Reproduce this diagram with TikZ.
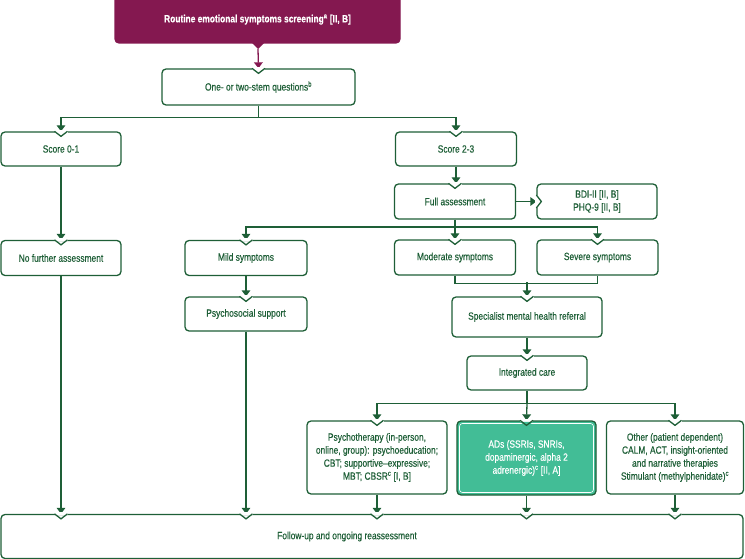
\documentclass[tikz,border=0pt]{standalone}
\usepackage{fontspec}
\setmainfont{Liberation Sans}[FakeStretch=0.8, FakeBold=0.35]
\usetikzlibrary{arrows.meta, positioning}
\definecolor{darkgreen}{RGB}{30,95,55}
\definecolor{plum}{RGB}{132,24,80}
\definecolor{mint}{RGB}{66,189,150}
\tikzset{
    box/.style = {draw=darkgreen, line width=1.3pt, rectangle, rounded corners=4pt, fill=white,
      text=darkgreen, align=center, inner sep=0pt, font=\fontsize{10.5}{13}\selectfont},
    topbox/.style = {box, draw=plum, fill=plum, text=white},
    textnode/.style = {draw=none, fill=none, text=darkgreen, inner sep=0pt, font=\fontsize{10.5}{13}\selectfont},
    line/.style = {darkgreen, line width=1.3pt},
    connect/.style = {line, -{Triangle[width=8.5pt,length=6pt]}}
}
\newcommand{\notch}[1]{\begin{scope}[shift={(#1)}]
    \fill[white] (-6.5,-1.5) rectangle (6.5,1.5);
    \draw[line, line join=miter] (-6.5,0) -- (0,5) -- (6.5,0);
  \end{scope}}
\newcommand{\notchleft}[1]{\begin{scope}[shift={(#1)}]
    \fill[white] (-1.5,-6.5) rectangle (1.5,6.5);
    \draw[line, line join=miter] (0,-6.5) -- (5,0) -- (0,6.5);
  \end{scope}}

\begin{document}
\begin{tikzpicture}[x=1pt, y=-1pt]
    \useasboundingbox (0,0) rectangle (745,559);

    \node [name=screen, topbox, minimum width=285pt, minimum height=47pt] at (257.5,19.5)
        {\textbf{Routine emotional symptoms screening\textsuperscript{a} [II, B]}};
    \fill[plum] (251.5,42.5) -- (264.5,42.5) -- (258,49) -- cycle;

    \node [name=stem, box, minimum width=193pt, minimum height=36pt] at (258.5,87)
        {One- or two-stem questions\textsuperscript{b}};
    \node [name=low, box, minimum width=120pt, minimum height=34pt] at (61,149) {Score 0-1};
    \node [name=high, box, minimum width=121pt, minimum height=34pt] at (456,149) {Score 2-3};
    \node [name=full, box, minimum width=121pt, minimum height=35pt] at (455,201.5) {Full assessment};
    \node [name=scales, box, minimum width=120pt, minimum height=35pt] at (597,201.5)
        {BDI-II [II, B]\\PHQ-9 [II, B]};

    \node [name=nofurther, box, minimum width=120pt, minimum height=35pt] at (61,258) {No further assessment};
    \node [name=mild, box, minimum width=122pt, minimum height=35pt] at (246,258) {Mild symptoms};
    \node [name=moderate, box, minimum width=121pt, minimum height=35pt] at (455,257.5) {Moderate symptoms};
    \node [name=severe, box, minimum width=121pt, minimum height=35pt] at (597.5,257.5) {Severe symptoms};

    \node [name=psysocial, box, minimum width=122pt, minimum height=34pt] at (246,314) {Psychosocial support};
    \node [name=specialist, box, minimum width=150pt, minimum height=40pt] at (527,317)
        {Specialist mental health referral};
    \node [name=integrated, box, minimum width=120pt, minimum height=34pt] at (527,373) {Integrated care};

    \node [name=psychotherapy, box, minimum width=140pt, minimum height=73pt] at (377,457.5)
        {Psychotherapy (in-person,\\online, group): psychoeducation;\\CBT; supportive--expressive;\\MBT; CBSR\textsuperscript{c} [I, B]};
    \node [name=ads, box, fill=mint, text=white, minimum width=139pt, minimum height=74pt] at (526.5,458)
        {ADs (SSRIs, SNRIs,\\dopaminergic, alpha 2\\adrenergic)\textsuperscript{c} [II, A]};
    \draw [white, line width=0.6pt, rounded corners=3pt] (459.5,423.5) rectangle (593.5,492.5);
    \node [name=other, box, minimum width=137pt, minimum height=73pt] at (675,457.5)
        {Other (patient dependent)\\CALM, ACT, insight-oriented\\and narrative therapies\\Stimulant (methylphenidate)\textsuperscript{c}};

    \node [name=follow, box, minimum width=742pt, minimum height=44pt] at (372,536.5) {};
    \node [name=followtext, textnode] at (347,536.5) {Follow-up and ongoing reassessment};

    % connectors
    \draw [plum, line width=1.3pt, -{Triangle[width=8.5pt,length=6pt]}] (258,49) -- (stem.north);
    \draw [line] (stem.south) -- ++(0,12) coordinate (split1);
    \draw [connect] (split1) -| (low.north);
    \draw [connect] (split1) -| (high.north);
    \draw [connect] (high.south) -- (full.north -| high.south);
    \draw [connect] (full.east) -- (scales.west);
    \draw [connect] (low.south) -- (nofurther.north);

    \draw [line] (full.south) -- ++(0,7.5) coordinate (split2);
    \draw [connect] (split2) -| (mild.north);
    \draw [connect] (split2) -| (severe.north);
    \draw [connect] (split2) -- (moderate.north);
    \draw [connect] (mild.south) -- (psysocial.north);

    \draw [line] (moderate.south) -- ++(0,8) -| (severe.south);
    \path (specialist.north) ++(0,-14) coordinate (join);
    \draw [connect] (join) -- (specialist.north);
    \draw [connect] (specialist.south) -- (integrated.north);

    \draw [line] (integrated.south) -- ++(0,13) coordinate (split3);
    \draw [connect] (split3) -| (psychotherapy.north);
    \draw [connect] (split3) -| (other.north);
    \draw [connect] (split3) -- (ads.north);

    \draw [connect] (nofurther.south) -- (nofurther.south |- follow.north);
    \draw [connect] (psysocial.south) -- (psysocial.south |- follow.north);
    \draw [connect] (psychotherapy.south) -- (psychotherapy.south |- follow.north);
    \draw [connect] (ads.south) -- (ads.south |- follow.north);
    \draw [connect] (other.south) -- (other.south |- follow.north);

    % notches
    \notch{stem.north} \notch{low.north} \notch{high.north} \notch{full.north}
    \notchleft{scales.west}
    \notch{nofurther.north} \notch{mild.north} \notch{moderate.north} \notch{severe.north}
    \notch{psysocial.north} \notch{specialist.north} \notch{integrated.north}
    \notch{psychotherapy.north} \notch{other.north}
    \begin{scope}[shift={(ads.north)}]
      \fill[white] (-6.5,-1.5) rectangle (6.5,1.5);
      \fill[mint] (-6.5,1.5) -- (0,6.5) -- (6.5,1.5) -- cycle;
      \draw[line, line join=miter] (-6.5,0) -- (0,5) -- (6.5,0);
    \end{scope}
    \notch{nofurther.south |- follow.north} \notch{psysocial.south |- follow.north}
    \notch{psychotherapy.south |- follow.north} \notch{ads.south |- follow.north}
    \notch{other.south |- follow.north}
\end{tikzpicture}
\end{document}
